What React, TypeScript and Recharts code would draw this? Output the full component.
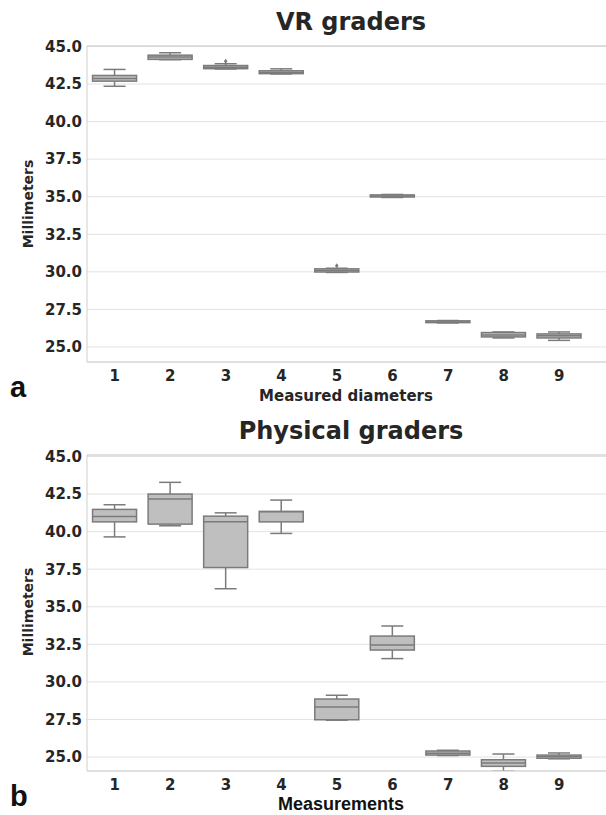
import React from 'react';
import { ComposedChart, Bar, XAxis, YAxis, CartesianGrid, ReferenceLine } from 'recharts';

// ---- data ----
const categories = ['1', '2', '3', '4', '5', '6', '7', '8', '9'];
const yTicks = [25, 27.5, 30, 32.5, 35, 37.5, 40, 42.5, 45];

// VR graders
const vrLow = [42.35, 44.12, 43.5, 43.17, 29.96, 34.95, 26.6, 25.6, 25.44];
const vrQ1 = [42.69, 44.14, 43.52, 43.19, 29.99, 34.98, 26.62, 25.67, 25.6];
const vrMedian = [42.87, 44.3, 43.62, 43.27, 30.09, 35.05, 26.67, 25.8, 25.74];
const vrQ3 = [43.07, 44.42, 43.73, 43.38, 30.2, 35.12, 26.74, 25.96, 25.87];
const vrHigh = [43.47, 44.58, 43.85, 43.51, 30.24, 35.15, 26.76, 26.0, 26.0];
const vrFliers = [[], [], [44.02], [], [30.4], [], [], [], []];

// Physical graders
const phLow = [39.65, 40.39, 36.2, 39.88, 27.45, 31.55, 25.1, 24.05, 24.88];
const phQ1 = [40.65, 40.5, 37.61, 40.65, 27.48, 32.12, 25.13, 24.38, 24.92];
const phMedian = [41.01, 42.17, 40.65, 41.33, 28.33, 32.45, 25.25, 24.6, 25.03];
const phQ3 = [41.48, 42.5, 41.03, 41.35, 28.86, 33.05, 25.4, 24.82, 25.13];
const phHigh = [41.79, 43.28, 41.25, 42.1, 29.11, 33.72, 25.45, 25.2, 25.27];
const phFliers = [[], [], [], [], [], [], [], [], []];

const vrDomain = [24.0, 45.03];
const phDomain = [24.07, 45.1];

function buildRows(low: number[], q1: number[], med: number[], q3: number[], high: number[], fl: number[][]) {
  return categories.map((c, i) => ({
    name: c,
    range: [low[i], high[i]],
    lo: low[i],
    q1: q1[i],
    med: med[i],
    q3: q3[i],
    hi: high[i],
    fliers: fl[i],
  }));
}

const vrRows = buildRows(vrLow, vrQ1, vrMedian, vrQ3, vrHigh, vrFliers);
const phRows = buildRows(phLow, phQ1, phMedian, phQ3, phHigh, phFliers);

const EDGE = '#7b7b7b';
const FILL = '#bfbfbf';

const BoxShape = (props: any) => {
  const { x, y, width, height, payload } = props;
  if (x == null || y == null || !payload) return null;
  const top = Math.min(y, y + height);
  const bot = Math.max(y, y + height);
  const { lo, hi } = payload;
  const px = (v: number) => (hi === lo ? top : bot - ((v - lo) / (hi - lo)) * (bot - top));
  const cx = x + width / 2;
  const capHalf = width / 4;
  const yq1 = px(payload.q1);
  const yq3 = px(payload.q3);
  const ymed = px(payload.med);
  const ylo = px(lo);
  const yhi = px(hi);
  return (
    <g>
      <line x1={cx} x2={cx} y1={yhi} y2={yq3} stroke={EDGE} strokeWidth={1.5} />
      <line x1={cx} x2={cx} y1={yq1} y2={ylo} stroke={EDGE} strokeWidth={1.5} />
      <line x1={cx - capHalf} x2={cx + capHalf} y1={yhi} y2={yhi} stroke={EDGE} strokeWidth={1.5} />
      <line x1={cx - capHalf} x2={cx + capHalf} y1={ylo} y2={ylo} stroke={EDGE} strokeWidth={1.5} />
      <rect x={x} y={yq3} width={width} height={Math.max(yq1 - yq3, 0.5)} fill={FILL} stroke={EDGE} strokeWidth={1.5} />
      <line x1={x} x2={x + width} y1={ymed} y2={ymed} stroke={EDGE} strokeWidth={1.5} />
      {payload.fliers.map((f: number, k: number) => {
        const fy = px(f);
        return (
          <path key={k} d={`M${cx},${fy - 2.5} L${cx + 1.8},${fy} L${cx},${fy + 2.5} L${cx - 1.8},${fy} Z`} fill={EDGE} />
        );
      })}
    </g>
  );
};

const tickStyle = { fontSize: 15, fontWeight: 700, fill: '#262626', fontFamily: 'DejaVu Sans' };

function BoxChart({ rows, domain }: { rows: any[]; domain: number[] }) {
  return (
    <ComposedChart
      width={620}
      height={392}
      data={rows}
      margin={{ top: 46, right: 5, bottom: 0, left: 0 }}
      barCategoryGap="10%"
    >
      <CartesianGrid vertical={false} stroke="#e2e2e2" strokeWidth={1} />
      <XAxis
        dataKey="name"
        type="category"
        interval={0}
        height={30}
        tickLine={false}
        tickSize={0}
        tickMargin={8}
        axisLine={{ stroke: '#cfcfcf', strokeWidth: 1 }}
        tick={tickStyle}
        padding={{ left: 0, right: 28 }}
      />
      <YAxis
        type="number"
        domain={domain}
        allowDataOverflow
        ticks={yTicks}
        width={87}
        tickLine={false}
        tickSize={0}
        tickMargin={5}
        axisLine={{ stroke: '#cfcfcf', strokeWidth: 1 }}
        tick={tickStyle}
        tickFormatter={(v: number) => v.toFixed(1)}
      />
      <ReferenceLine y={domain[1]} stroke="#cfcfcf" strokeWidth={1} />
      <Bar dataKey="range" shape={<BoxShape />} isAnimationActive={false} />
    </ComposedChart>
  );
}

export default function App() {
  return (
    <div
      style={{
        position: 'absolute',
        left: 0,
        top: 0,
        width: 606,
        height: 815,
        overflow: 'hidden',
        background: '#ffffff',
      }}
    >
      <div style={{ position: 'absolute', left: 0, top: 0 }}>
        <BoxChart rows={vrRows} domain={vrDomain} />
      </div>
      <div style={{ position: 'absolute', left: 0, top: 409 }}>
        <BoxChart rows={phRows} domain={phDomain} />
      </div>
      <svg
        width={606}
        height={815}
        style={{ position: 'absolute', left: 0, top: 0, pointerEvents: 'none' }}
      >
        <g fontFamily="DejaVu Sans" fontWeight={700} fill="#262626">
          <text x={351} y={30} fontSize={24} textAnchor="middle">VR graders</text>
          <text x={346} y={401} fontSize={15} textAnchor="middle">Measured diameters</text>
          <text x={33} y={204} fontSize={14} textAnchor="middle" transform="rotate(-90 33 204)">Millimeters</text>
          <text x={351} y={439} fontSize={24} textAnchor="middle">Physical graders</text>
          <text x={33} y={612} fontSize={14} textAnchor="middle" transform="rotate(-90 33 612)">Millimeters</text>
        </g>
        <g fontFamily="Liberation Sans" fontWeight={700} fill="#111111">
          <text x={341} y={810} fontSize={18} textAnchor="middle">Measurements</text>
          <text x={10} y={397} fontSize={29}>a</text>
          <text x={10} y={806} fontSize={29}>b</text>
        </g>
      </svg>
    </div>
  );
}
